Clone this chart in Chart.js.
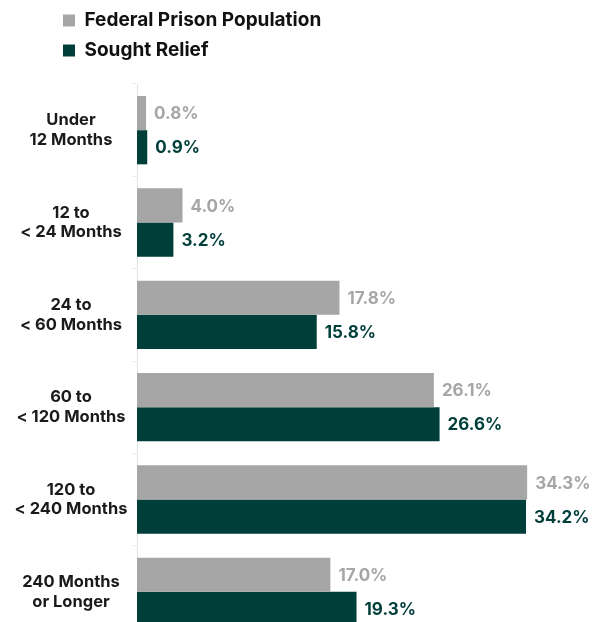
<!DOCTYPE html>
<html>
<head>
<meta charset="utf-8">
<script src="https://cdn.jsdelivr.net/npm/chart.js@4/dist/chart.umd.min.js"></script>
<style>
  html, body { margin: 0; padding: 0; background: #fff; overflow: hidden; }
  canvas { display: block; }
</style>
</head>
<body>
<canvas id="sentenceChart" width="592" height="640"></canvas>
<script>
(function(){
'use strict';

// categorías (etiquetas en dos líneas)
const categories = [
  ['Under', '12 Months'],
  ['12 to', '< 24 Months'],
  ['24 to', '< 60 Months'],
  ['60 to', '< 120 Months'],
  ['120 to', '< 240 Months'],
  ['240 Months', 'or Longer']
];
const seriesNames  = ['Federal Prison Population', 'Sought Relief'];
const federalPop   = [0.8, 4.0, 17.8, 26.1, 34.3, 17.0];
const soughtRelief = [0.9, 3.2, 15.8, 26.6, 34.2, 19.3];

const GRAY  = '#a6a6a6';
const GREEN = '#003e3a';
const FONT  = 'Inter, "Open Sans", sans-serif';

const AXIS_W    = 137;  // ancho fijo del eje de categorías
const LABEL_CX  = 71;   // centro horizontal de las etiquetas
const TICK_LEN  = 5;
const TICK_FONT = 16.5;

// padding de ticks para que las etiquetas queden centradas en LABEL_CX
const measure = document.createElement('canvas').getContext('2d');
measure.font = `700 ${TICK_FONT}px ${FONT}`;
const widest = Math.max(...categories.flat().map(s => measure.measureText(s).width));
const tickPad = Math.max(2, AXIS_W - TICK_LEN - LABEL_CX - widest / 2);

// leyenda en dos filas, desplazada a la derecha y separada del gráfico
const LEGEND_X = 52, LEGEND_W = 300;
const legendTweaks = {
  id: 'legendTweaks',
  beforeLayout(chart){
    const lg = chart.legend;
    if (!lg || lg._patched) return;
    const fit = lg.fit;
    lg.fit = function(){
      this.maxWidth = Math.min(this.maxWidth, LEGEND_W);
      fit.call(this);
      this.height += 14;
    };
    lg._patched = true;
  },
  afterLayout(chart){
    const lg = chart.legend;
    if (!lg) return;
    lg.left = LEGEND_X;
    lg.right = LEGEND_X + LEGEND_W;
    lg.width = LEGEND_W;
  }
};

// valores al final de cada barra
const barValueLabels = {
  id: 'barValueLabels',
  afterDatasetsDraw(chart){
    const ctx = chart.ctx;
    const colors = [GRAY, GREEN];
    ctx.save();
    ctx.font = `700 17px ${FONT}`;
    ctx.textAlign = 'left';
    ctx.textBaseline = 'middle';
    chart.data.datasets.forEach((ds, di) => {
      const meta = chart.getDatasetMeta(di);
      ctx.fillStyle = colors[di];
      meta.data.forEach((bar, i) => {
        ctx.fillText(ds.data[i].toFixed(1) + '%', bar.x + 8, bar.y + 1);
      });
    });
    ctx.restore();
  }
};

const ctx = document.getElementById('sentenceChart').getContext('2d');
new Chart(ctx, {
  type: 'bar',
  data: {
    labels: categories,
    datasets: [
      { label: seriesNames[0], data: federalPop,   backgroundColor: GRAY,  categoryPercentage: 0.74, barPercentage: 1.0 },
      { label: seriesNames[1], data: soughtRelief, backgroundColor: GREEN, categoryPercentage: 0.74, barPercentage: 1.0 }
    ]
  },
  options: {
    indexAxis: 'y',
    responsive: false,
    animation: false,
    layout: { padding: { left: 0, top: 0, right: 0, bottom: 2 } },
    scales: {
      x: { min: 0, max: 40, display: false },
      y: {
        grid: { display: true, drawOnChartArea: false, drawTicks: true, tickLength: TICK_LEN, color: '#ececec', offset: true },
        border: { display: true, color: '#e4e4e4' },
        ticks: {
          color: '#1a1a1a',
          crossAlign: 'center',
          padding: tickPad,
          font: { family: FONT, size: TICK_FONT, weight: '700', lineHeight: 1.2 }
        },
        afterFit(scale){
          scale.width = AXIS_W;
          // sin margen extra arriba/abajo por la altura de las etiquetas
          scale.paddingTop = 0;
          scale.paddingBottom = 0;
        }
      }
    },
    plugins: {
      tooltip: { enabled: false },
      legend: {
        position: 'top',
        align: 'start',
        labels: {
          boxWidth: 12,
          boxHeight: 12,
          padding: 11,
          color: '#111',
          font: { family: FONT, size: 19, weight: '700' }
        }
      }
    }
  },
  plugins: [legendTweaks, barValueLabels]
});

})();
</script>
</body>
</html>
